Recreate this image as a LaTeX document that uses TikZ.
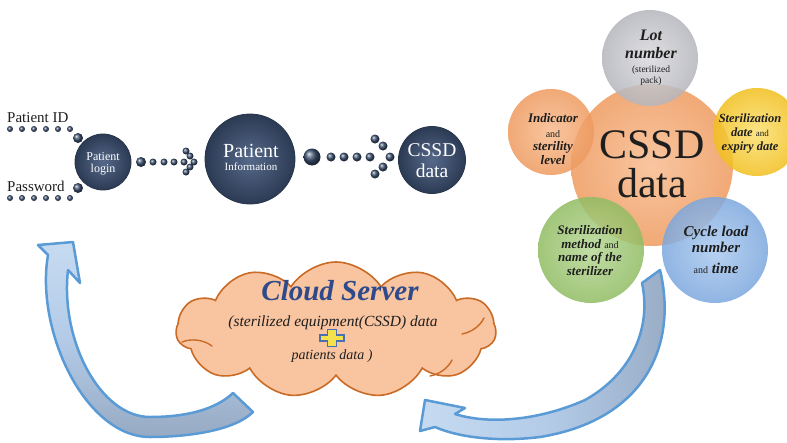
\documentclass[tikz,border=0pt]{standalone}
\usepackage{fontspec}
\setmainfont{Liberation Serif}
\usetikzlibrary{shapes.symbols}
\definecolor{navyin}{HTML}{56698A}
\definecolor{navyout}{HTML}{2C3B54}
\definecolor{navyrim}{HTML}{27354B}
\definecolor{beadcol}{HTML}{3E5272}
\definecolor{inktxt}{HTML}{1E1E1E}
\definecolor{orin}{HTML}{F8BB8F}
\definecolor{orout}{HTML}{EE9A5E}
\definecolor{grin}{HTML}{DADADE}
\definecolor{grout}{HTML}{B4B5BC}
\definecolor{yein}{HTML}{FBE070}
\definecolor{yeout}{HTML}{F1BF1E}
\definecolor{gnin}{HTML}{B6D795}
\definecolor{gnout}{HTML}{90BC62}
\definecolor{blin}{HTML}{ABCAEF}
\definecolor{blout}{HTML}{7CA7DD}
\definecolor{cloudfill}{HTML}{F9C4A0}
\definecolor{cloudrim}{HTML}{C96A25}
\definecolor{cloudtxt}{HTML}{2E4A8A}
\definecolor{arrowrim}{HTML}{5B9BD5}
\definecolor{arrowlight}{HTML}{C6DBF1}
\definecolor{arrowmid}{HTML}{B3CBE8}
\definecolor{arrowgray}{HTML}{97AAC3}
\definecolor{plusfill}{HTML}{F4E14B}
\definecolor{plusrim}{HTML}{4B6FB3}
\begin{document}
\begin{tikzpicture}[x=1pt,y=-1pt,
  navy/.style={circle,inner sep=0pt,minimum size=#1,inner color=navyin,outer color=navyout,draw=navyrim,line width=0.8pt},
  bead/.style={circle,inner sep=0pt,minimum size=#1,ball color=beadcol},
  bub/.style={circle,inner sep=0pt,minimum size=#1,fill opacity=0.85},
  wtxt/.style={text=white,anchor=base,inner sep=0pt},
  ktxt/.style={text=inktxt,anchor=base,inner sep=0pt},
  fs/.style={font=\fontsize{#1}{#1}\selectfont},
  bis/.style={font=\fontsize{#1}{#1}\selectfont\bfseries\itshape},
  bigarrow/.style={draw=arrowrim,line width=2.5pt,line join=round},
  inarc/.style={cloudrim,line width=1.4pt,line cap=round}
]
\useasboundingbox (0,0) rectangle (787,442);

% ---------- left chain ----------
\node[ktxt,anchor=base west,fs=15] (pid) at (7,122) {Patient ID};
\node[ktxt,anchor=base west,fs=15] (pwd) at (7,191) {Password};
\foreach \i in {0,...,5}{
  \node[bead=6] (pa\i) at (10+12*\i,129) {};
  \node[bead=6] (pb\i) at (10+12*\i,198) {};
}
\node[bead=10] (pidball) at (78,138) {};
\node[bead=10] (pwdball) at (78,188) {};

\node[navy=56] (login) at (103,162) {};
\node[wtxt,fs=12] (loginA) at (103,160) {Patient};
\node[wtxt,fs=12] (loginB) at (103,172) {login};

\node[bead=10] (lb) at (141,162) {};
\foreach \x [count=\k] in {153,164,174,184}{\node[bead=7] (la\k) at (\x,162) {};}
\node[bead=7] (lc1) at (186,151) {};
\node[bead=7] (lc2) at (190,156) {};
\node[bead=7] (lc3) at (194,162) {};
\node[bead=7] (lc4) at (190,167) {};
\node[bead=7] (lc5) at (186,172) {};

\node[navy=90] (info) at (250,159) {};
\node[wtxt,fs=20] (infoA) at (251,157) {Patient};
\node[wtxt,fs=11] (infoB) at (251,170) {Information};

\node[bead=17] (ib) at (312,157) {};
\foreach \x [count=\k] in {331,344,357,370}{\node[bead=9] (ia\k) at (\x,157) {};}
\node[bead=9] (ic1) at (375,139) {};
\node[bead=9] (ic2) at (383,146) {};
\node[bead=9] (ic3) at (390,157) {};
\node[bead=9] (ic4) at (383,167) {};
\node[bead=9] (ic5) at (375,174) {};

\node[navy=67] (cssdL) at (432,160) {};
\node[wtxt,fs=19.5] (cssdA) at (432,156) {CSSD};
\node[wtxt,fs=19.5] (cssdB) at (432,177) {data};

% ---------- right cluster ----------
\node[bub=162,inner color=orin,outer color=orout] (core) at (652,165) {};
\node[bub=96,inner color=grin,outer color=grout] (lot) at (650,58) {};
\node[bub=86,inner color=orin,outer color=orout] (ind) at (551,132) {};
\node[bub=88,inner color=yein,outer color=yeout] (ste) at (757,132) {};
\node[bub=106,inner color=gnin,outer color=gnout] (meth) at (591,250) {};
\node[bub=106,inner color=blin,outer color=blout] (cyc) at (715,250) {};

\node[ktxt,fs=42] (coreA) at (652,158) {CSSD};
\node[ktxt,fs=42] (coreB) at (652,197) {data};

\node[ktxt,bis=16] (lotA) at (651,40) {Lot};
\node[ktxt,bis=16] (lotB) at (651,58) {number};
\node[ktxt,fs=9.5] (lotC) at (651,72) {(sterilized};
\node[ktxt,fs=9.5] (lotD) at (651,83) {pack)};

\node[ktxt,bis=13] (indA) at (553,122) {Indicator};
\node[ktxt,fs=10] (indB) at (553,137) {and};
\node[ktxt,bis=13] (indC) at (553,150) {sterility};
\node[ktxt,bis=13] (indD) at (553,164) {level};

\node[ktxt,bis=12.5] (steA) at (750,122) {Sterilization};
\node[ktxt,bis=12.5] (steB) at (750,136) {date {\mdseries\upshape\fontsize{9}{9}\selectfont and}};
\node[ktxt,bis=12.5] (steC) at (750,150) {expiry date};

\node[ktxt,bis=13] (methA) at (590,234) {Sterilization};
\node[ktxt,bis=13] (methB) at (590,248) {method {\mdseries\upshape\fontsize{10}{10}\selectfont and}};
\node[ktxt,bis=13] (methC) at (590,261) {name of the};
\node[ktxt,bis=13] (methD) at (590,275) {sterilizer};

\node[ktxt,bis=15] (cycA) at (716,236) {Cycle load};
\node[ktxt,bis=15] (cycB) at (716,252) {number};
\node[ktxt,bis=15] (cycC) at (716,273) {{\mdseries\upshape\fontsize{10}{10}\selectfont and} time};

% ---------- cloud ----------
\node[cloud,cloud puffs=11,cloud puff arc=115,aspect=2.35,draw=cloudrim,fill=cloudfill,line width=1.6pt,
      inner sep=0pt,minimum width=320pt,minimum height=136pt] (cloud) at (336,330) {};
\draw[inarc] (182,342) .. controls (192,338) and (204,340) .. (212,346);
\draw[inarc] (462,334) .. controls (472,332) and (480,326) .. (484,318);
\draw[inarc] (430,376) .. controls (440,374) and (448,368) .. (452,360);
\node[anchor=base,inner sep=0pt,text=cloudtxt,bis=29] (cloudA) at (340,300) {Cloud Server};
\node[ktxt,font=\fontsize{15.5}{15.5}\selectfont\itshape] (cloudB) at (333,326) {(sterilized equipment(CSSD) data};
\node[ktxt,font=\fontsize{14}{14}\selectfont\itshape] (cloudC) at (332,359) {patients data )};
\coordinate (plusc) at (332,338);
\draw[plusrim,fill=plusfill,line width=1.2pt,line join=miter,shift={(plusc)}]
  (-4.5,-8.5) -- (4.5,-8.5) -- (4.5,-3) -- (12,-3) -- (12,3) -- (4.5,3) -- (4.5,8.5)
  -- (-4.5,8.5) -- (-4.5,3) -- (-12,3) -- (-12,-3) -- (-4.5,-3) -- cycle;

% ---------- curved arrows ----------
\draw[bigarrow,top color=arrowlight,bottom color=arrowgray,middle color=arrowmid]
  (48,255) .. controls (35,330) and (85,437) .. (150,437)
  .. controls (190,437) and (235,430) .. (253,412)
  -- (233,393)
  .. controls (215,410) and (185,417) .. (150,417)
  .. controls (100,417) and (60,340) .. (68,270)
  -- (80,283) -- (73,242) -- (38,245) -- cycle;

\draw[bigarrow,left color=arrowlight,right color=arrowgray,middle color=arrowmid]
  (660,270) .. controls (678,345) and (645,420) .. (540,437)
  .. controls (500,442) and (460,438) .. (435,427)
  -- (420,431) -- (425,400) -- (465,408) -- (455,414)
  .. controls (490,425) and (540,420) .. (585,400)
  .. controls (630,375) and (652,330) .. (642,283) -- cycle;
\end{tikzpicture}
\end{document}
